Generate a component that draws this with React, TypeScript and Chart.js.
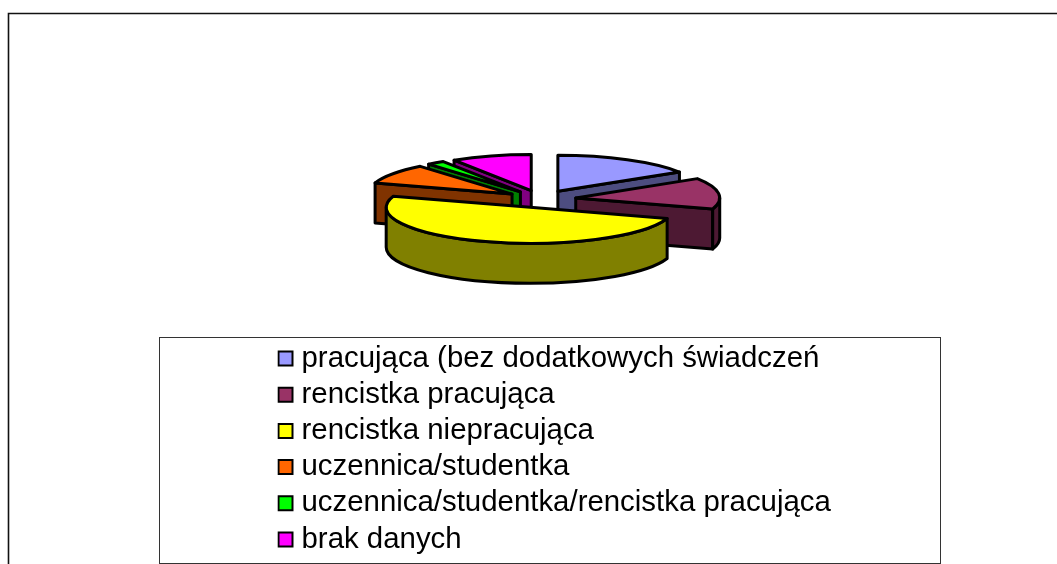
import React, { useEffect, useRef } from "react";
import { Chart, registerables } from "chart.js";

Chart.register(...registerables);

const categories = [
  "pracująca (bez dodatkowych świadczeń",
  "rencistka pracująca",
  "rencistka niepracująca",
  "uczennica/studentka",
  "uczennica/studentka/rencistka pracująca",
  "brak danych",
];
const values = [16, 14, 50, 9, 2, 9];
const topColors = ["#9999ff", "#993366", "#ffff00", "#ff6600", "#00ff00", "#ff00ff"];
const wallColors = ["#4d4d80", "#4d1933", "#808000", "#803300", "#008000", "#800080"];
const drawOrder = [5, 4, 3, 0, 1, 2];

const SQUASH = 0.25;
const DEPTH = 40;
const EXPLODE = 35;

function ellipseArc(
  ctx: CanvasRenderingContext2D,
  px: number,
  py: number,
  r: number,
  from: number,
  to: number,
  ccw = false
) {
  ctx.save();
  ctx.translate(px, py);
  ctx.scale(1, SQUASH);
  ctx.arc(0, 0, r, from, to, ccw);
  ctx.restore();
}

const pie3d = {
  id: "pie3d",
  beforeDraw(chart: any) {
    const { ctx } = chart;
    ctx.save();
    ctx.fillStyle = "#ffffff";
    ctx.fillRect(0, 0, chart.width, chart.height);
    ctx.strokeStyle = "#111111";
    ctx.lineWidth = 1.6;
    ctx.beginPath();
    ctx.moveTo(8.5, 600);
    ctx.lineTo(8.5, 13.5);
    ctx.lineTo(1100, 13.5);
    ctx.stroke();
    ctx.strokeStyle = "#333333";
    ctx.lineWidth = 1;
    ctx.strokeRect(159.5, 337.5, 781, 226);
    ctx.restore();
  },
  beforeDatasetsDraw(chart: any) {
    const { ctx } = chart;
    const arcs = chart.getDatasetMeta(0).data;
    ctx.save();
    ctx.lineJoin = "round";
    ctx.lineWidth = 3;
    ctx.strokeStyle = "#000000";
    for (const i of drawOrder) {
      const a = arcs[i];
      const r = a.outerRadius;
      const mid = (a.startAngle + a.endAngle) / 2;
      const px = a.x + Math.cos(mid) * EXPLODE;
      const py = a.y + Math.sin(mid) * EXPLODE * SQUASH;

      ctx.fillStyle = wallColors[i];
      const edges: number[] = [];
      if (Math.cos(a.startAngle) < -1e-6) edges.push(a.startAngle);
      if (Math.cos(a.endAngle) > 1e-6) edges.push(a.endAngle);
      for (const t of edges) {
        const qx = Math.cos(t) * r;
        const qy = Math.sin(t) * r * SQUASH;
        ctx.beginPath();
        ctx.moveTo(px, py);
        ctx.lineTo(px + qx, py + qy);
        ctx.lineTo(px + qx, py + qy + DEPTH);
        ctx.lineTo(px, py + DEPTH);
        ctx.closePath();
        ctx.fill();
        ctx.stroke();
      }
      const from = Math.max(a.startAngle, 0);
      const to = Math.min(a.endAngle, Math.PI);
      if (to > from) {
        ctx.beginPath();
        ellipseArc(ctx, px, py, r, from, to);
        ellipseArc(ctx, px, py + DEPTH, r, to, from, true);
        ctx.closePath();
        ctx.fill();
        ctx.stroke();
      }
      ctx.beginPath();
      ctx.moveTo(px, py);
      ellipseArc(ctx, px, py, r, a.startAngle, a.endAngle);
      ctx.closePath();
      ctx.fillStyle = topColors[i];
      ctx.fill();
      ctx.stroke();
    }
    ctx.restore();
    return false;
  },
};

const placeBoxes = {
  id: "placeBoxes",
  afterLayout(chart: any) {
    const l = chart.legend;
    l.left = 277.4;
    l.top = 337;
    l.right = 940;
    l.bottom = 700;
    l.width = 663;
    l.height = 363;
    chart.chartArea = { left: 25, right: 1057, top: 0, bottom: 398, width: 1032, height: 398 };
  },
};

export default function App() {
  const ref = useRef<HTMLCanvasElement>(null);
  useEffect(() => {
    const chart = new Chart(ref.current as HTMLCanvasElement, {
      type: "pie",
      data: {
        labels: categories,
        datasets: [{ data: values, backgroundColor: topColors, borderColor: "#000000", borderWidth: 2 }],
      },
      options: {
        responsive: false,
        animation: false,
        radius: 144,
        plugins: {
          tooltip: { enabled: false },
          legend: {
            position: "right",
            align: "start",
            labels: {
              color: "#000000",
              font: { family: "'Liberation Sans'", size: 29.4 },
              padding: 6.8,
              boxWidth: 2.6,
              boxHeight: 14,
              usePointStyle: true,
              generateLabels: () =>
                categories.map((text, i) => ({
                  text,
                  fillStyle: topColors[i],
                  strokeStyle: "#000000",
                  lineWidth: 2,
                  pointStyle: "rect",
                  hidden: false,
                  index: i,
                  fontColor: "#000000",
                })),
            },
          },
        },
      } as any,
      plugins: [pie3d, placeBoxes],
    });
    return () => chart.destroy();
  }, []);
  return (
    <canvas
      ref={ref}
      width={1057}
      height={564}
      style={{ position: "fixed", left: 0, top: 0, width: 1057, height: 564 }}
    />
  );
}
